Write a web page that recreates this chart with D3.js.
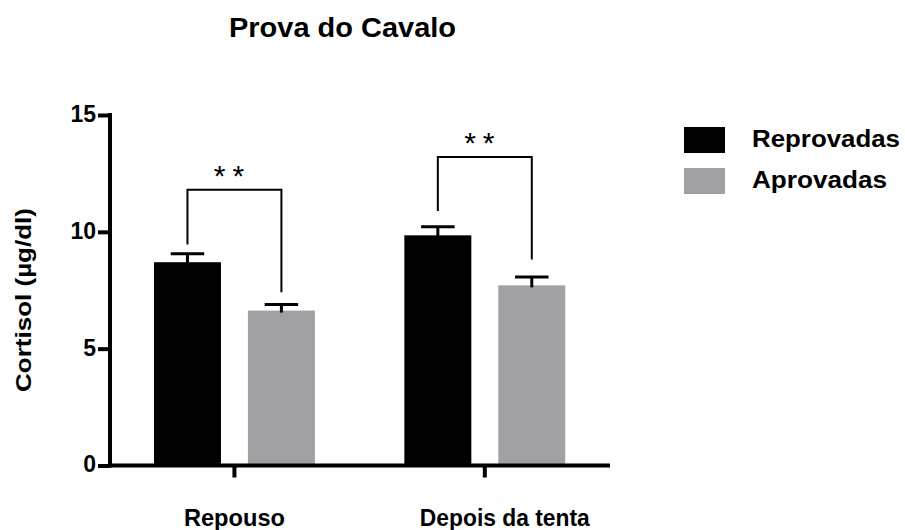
<!DOCTYPE html>
<html>
<head>
<meta charset="utf-8">
<script src="https://cdn.jsdelivr.net/npm/d3@7"></script>
<style>
  html, body { margin: 0; padding: 0; background: #fff; }
  svg { display: block; font-family: "Liberation Sans", Arial, Helvetica, sans-serif; }
</style>
</head>
<body>
<svg id="chart" width="905" height="530"></svg>
<script>
// ---- data ----
const title = "Prova do Cavalo";
const yAxisTitle = "Cortisol (µg/dl)";
const categories = ["Repouso", "Depois da tenta"];
const seriesNames = ["Reprovadas", "Aprovadas"];
const reprovadasMean = [8.7, 9.85];
const reprovadasErr = [0.36, 0.37];
const aprovadasMean = [6.63, 7.71];
const aprovadasErr = [0.26, 0.36];
const yTicks = [0, 5, 10, 15];
const significance = ["**", "**"];
const bracketTop = [11.8, 13.2];
const bracketLeftEnd = [9.46, 10.89];
const bracketRightEnd = [7.41, 8.82];
const seriesColors = ["#000000", "#a1a0a5"];

const means = [reprovadasMean, aprovadasMean];
const errs = [reprovadasErr, aprovadasErr];

const svg = d3.select("#chart");

const x0 = d3.scaleBand().domain(categories).range([109.25, 610]).padding(0);
const x1 = d3.scaleBand().domain(seriesNames).range([0, x0.bandwidth()])
  .paddingInner(0.287).paddingOuter(0.476);
const y = d3.scaleLinear().domain([0, 15]).range([465.5, 115]);

// title
svg.append("text").attr("x", 342.5).attr("y", 36.5)
  .attr("text-anchor", "middle").attr("font-size", 27).attr("font-weight", "bold")
  .attr("textLength", 227).attr("lengthAdjust", "spacingAndGlyphs")
  .text(title);

// bars
const rows = [];
categories.forEach((c, i) => seriesNames.forEach((s, j) => rows.push({c, s, j, v: means[j][i], e: errs[j][i]})));

const g = svg.append("g");
g.selectAll("rect.bar").data(rows).enter().append("rect")
  .attr("class", "bar")
  .attr("x", d => x0(d.c) + x1(d.s))
  .attr("width", x1.bandwidth())
  .attr("y", d => y(d.v))
  .attr("height", d => y(0) - y(d.v))
  .attr("fill", d => seriesColors[d.j]);

// error bars (upper only)
const capW = x1.bandwidth() * 0.5;
rows.forEach(d => {
  const cx = x0(d.c) + x1(d.s) + x1.bandwidth() / 2;
  g.append("line").attr("x1", cx).attr("x2", cx).attr("y1", y(d.v) + 2).attr("y2", y(d.v + d.e))
    .attr("stroke", "#000").attr("stroke-width", 3);
  g.append("line").attr("x1", cx - capW / 2).attr("x2", cx + capW / 2)
    .attr("y1", y(d.v + d.e)).attr("y2", y(d.v + d.e))
    .attr("stroke", "#000").attr("stroke-width", 3);
});

// significance brackets
categories.forEach((c, i) => {
  const lx = x0(c) + x1(seriesNames[0]) + x1.bandwidth() / 2;
  const rx = x0(c) + x1(seriesNames[1]) + x1.bandwidth() / 2;
  const path = d3.path();
  path.moveTo(lx, y(bracketLeftEnd[i]));
  path.lineTo(lx, y(bracketTop[i]));
  path.lineTo(rx, y(bracketTop[i]));
  path.lineTo(rx, y(bracketRightEnd[i]));
  g.append("path").attr("d", path.toString()).attr("fill", "none")
    .attr("stroke", "#000").attr("stroke-width", 2);
  g.append("text").attr("x", (lx + rx) / 2 - 2).attr("y", y(bracketTop[i]) - 4)
    .attr("text-anchor", "middle").attr("font-size", 30)
    .attr("font-family", "'Liberation Sans', Arial, sans-serif")
    .attr("letter-spacing", 7)
    .text(significance[i]);
});

// y axis
const yAxis = d3.axisLeft(y).tickValues(yTicks).tickSize(12).tickPadding(2).tickSizeOuter(0);
const yg = svg.append("g").attr("transform", "translate(110,0)").call(yAxis);
yg.select(".domain").attr("stroke-width", 4).attr("d", `M0,${y(15) - 2}V${y(0) + 2}`);
yg.selectAll(".tick line").attr("stroke-width", 4);
yg.selectAll(".tick text").attr("font-size", 23).attr("font-weight", "bold")
  .attr("font-family", "'Liberation Sans', Arial, sans-serif").attr("fill", "#000").attr("dy", "0.28em");

// x axis
const xAxis = d3.axisBottom(x0).tickSize(12).tickSizeOuter(0).tickFormat("");
const xg = svg.append("g").attr("transform", `translate(0,${y(0)})`).call(xAxis);
xg.select(".domain").attr("stroke-width", 4).attr("d", `M108,0H610`);
xg.selectAll(".tick line").attr("stroke-width", 4);

// x category labels
const labelShift = [0, 20];
const labelLen = [101, 170];
categories.forEach((c, i) => {
  svg.append("text").attr("x", x0(c) + x0.bandwidth() / 2 + labelShift[i]).attr("y", 526)
    .attr("text-anchor", "middle").attr("font-size", 23).attr("font-weight", "bold")
    .attr("textLength", labelLen[i]).attr("lengthAdjust", "spacingAndGlyphs")
    .text(c);
});

// y axis title
svg.append("text").attr("transform", "translate(31,300) rotate(-90)")
  .attr("text-anchor", "middle").attr("font-size", 22).attr("font-weight", "bold")
  .attr("textLength", 184).attr("lengthAdjust", "spacingAndGlyphs")
  .text(yAxisTitle);

// legend
const legendLen = [148, 135];
const legend = svg.append("g");
seriesNames.forEach((s, j) => {
  legend.append("rect").attr("x", 684).attr("y", 127 + j * 41).attr("width", 41).attr("height", 26)
    .attr("fill", seriesColors[j]);
  legend.append("text").attr("x", 752).attr("y", 147 + j * 41)
    .attr("font-size", 23).attr("font-weight", "bold")
    .attr("textLength", legendLen[j]).attr("lengthAdjust", "spacingAndGlyphs")
    .text(s);
});
</script>
</body>
</html>
